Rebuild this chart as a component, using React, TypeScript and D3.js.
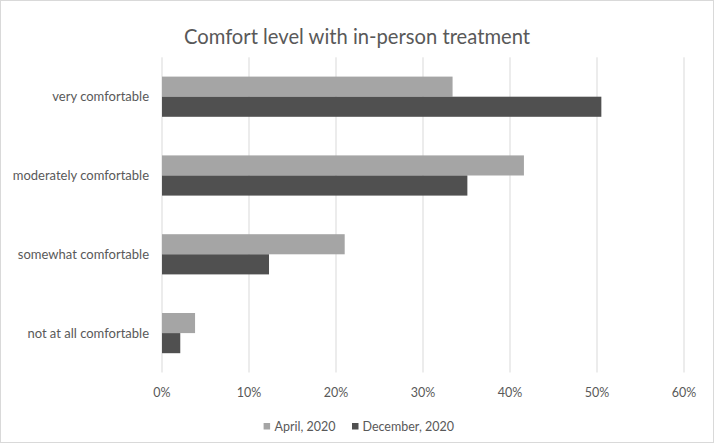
import React, { useEffect } from "react";
import * as d3 from "d3";

const categories = ["very comfortable", "moderately comfortable", "somewhat comfortable", "not at all comfortable"];
const seriesNames = ["April, 2020", "December, 2020"];
const april = [33.4, 41.6, 21.0, 3.8];
const december = [50.5, 35.1, 12.3, 2.1];
const xTicks = [0, 10, 20, 30, 40, 50, 60];
const title = "Comfort level with in-person treatment";

const W = 714, H = 443;
const colors = ["#a5a5a5", "#505050"];
const FONT = "Lato, 'Open Sans', sans-serif";
const TXT = "#595959";

export default function App() {
  useEffect(() => {
    document.body.style.margin = "0";
  }, []);
  const x = d3.scaleLinear().domain([0, 60]).range([162, 684]);
  const y = d3.scaleBand().domain(categories).range([57.3, 372.5]).paddingInner(0.49).paddingOuter(0.245);
  const sub = d3.scaleBand().domain(seriesNames).range([0, y.bandwidth()]);
  const series = [april, december];
  return (
    <svg width={W} height={H} style={{ display: "block", fontFamily: FONT }}>
      <rect x={0.5} y={0.5} width={W - 1} height={H - 1} fill="#fff" stroke="#d9d9d9" />
      <text x={357} y={44} textAnchor="middle" fontSize={20.2} fill={TXT}>{title}</text>
      {xTicks.map((t) => (
        <g key={t}>
          <line x1={x(t)} x2={x(t)} y1={57.3} y2={372.5} stroke="#d9d9d9" strokeWidth={1} />
          <text x={x(t)} y={397} textAnchor="middle" fontSize={12.5} fill={TXT}>{t + "%"}</text>
        </g>
      ))}
      {series.map((vals, si) =>
        vals.map((v, i) => (
          <rect key={si + "-" + i} x={x(0)} y={(y(categories[i]) as number) + (sub(seriesNames[si]) as number)}
            width={x(v) - x(0)} height={sub.bandwidth()} fill={colors[si]} />
        ))
      )}
      {categories.map((c) => (
        <text key={c} x={149} y={(y(c) as number) + y.bandwidth() / 2 + 4.5} textAnchor="end" fontSize={13} fill={TXT}>{c}</text>
      ))}
      <g>
        <rect x={263.6} y={423} width={6.5} height={6.5} fill={colors[0]} />
        <text x={274.5} y={431} fontSize={12.5} fill={TXT}>{seriesNames[0]}</text>
        <rect x={352} y={423} width={6.5} height={6.5} fill={colors[1]} />
        <text x={362.5} y={431} fontSize={12.5} fill={TXT}>{seriesNames[1]}</text>
      </g>
    </svg>
  );
}
